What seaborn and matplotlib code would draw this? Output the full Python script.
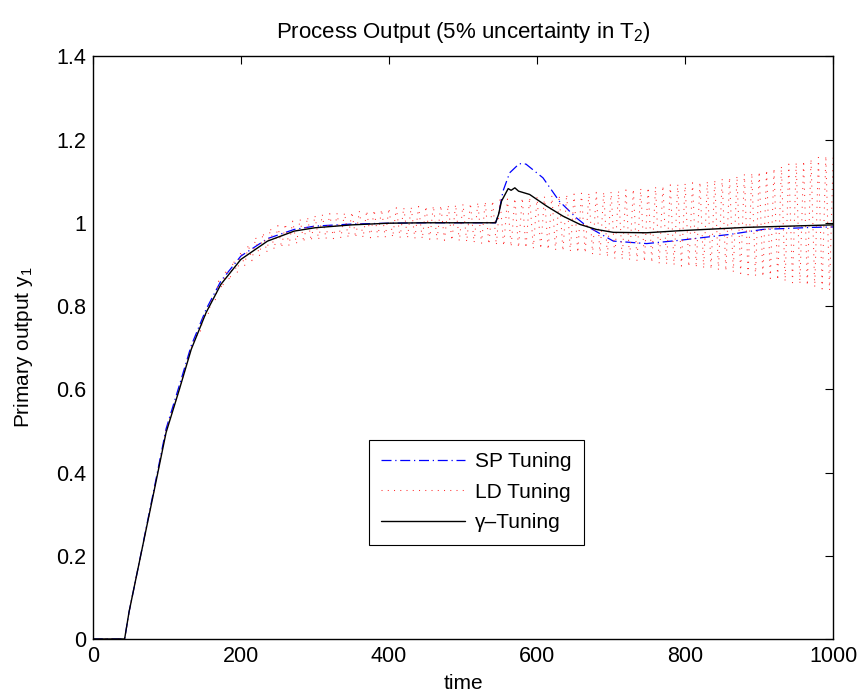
import numpy as np
import pandas as pd
import seaborn as sns
import matplotlib
matplotlib.use("Agg")
import matplotlib.pyplot as plt

# gamma-tuning (black, solid)
gam_t = [0, 43, 49, 60, 81, 99, 117, 133, 153, 173, 200, 236, 272, 300, 350, 400, 450, 500,
         544, 548, 552, 561, 565, 570, 575, 590, 613, 635, 658, 680, 703, 748, 793, 883, 1000]
gam_y = [0, 0, 0.065, 0.16, 0.34, 0.496, 0.6, 0.696, 0.784, 0.852, 0.912, 0.956, 0.98, 0.988,
         0.995, 0.999, 1.0, 1.0, 1.0, 1.02, 1.052, 1.082, 1.078, 1.084, 1.076, 1.068, 1.04, 1.016,
         0.996, 0.984, 0.977, 0.976, 0.981, 0.989, 0.995]

# SP tuning (blue, dash-dot)
sp_t = [0, 43, 49, 60, 81, 99, 117, 133, 153, 173, 200, 236, 272, 300, 350, 400, 450, 500,
        544, 548, 554, 563, 576, 585, 608, 630, 653, 667, 703, 748, 793, 860, 905, 973, 1000]
sp_y = [0, 0, 0.065, 0.16, 0.345, 0.505, 0.61, 0.705, 0.792, 0.86, 0.92, 0.962, 0.984, 0.992,
        0.997, 0.999, 1.0, 1.0, 1.0, 1.02, 1.076, 1.12, 1.142, 1.141, 1.108, 1.052, 1.012, 0.992,
        0.956, 0.95, 0.958, 0.972, 0.984, 0.989, 0.99]

# LD tuning (red, dotted) - fast growing oscillation, extremes
ld_rise_t = [0, 43, 49, 60, 81, 99, 117, 133]
ld_rise_y = [0, 0, 0.065, 0.16, 0.34, 0.50, 0.60, 0.70]
ld_osc_t = list(range(140, 1001, 5))
ld_osc_y = [0.728, 0.736, 0.780, 0.774, 0.812, 0.810, 0.860, 0.842, 0.888, 0.861,
            0.910, 0.879, 0.932, 0.896, 0.948, 0.909, 0.965, 0.920, 0.976, 0.929,
            0.987, 0.936, 0.993, 0.940, 0.998, 0.945, 1.004, 0.949, 1.009, 0.953,
            1.014, 0.956, 1.018, 0.959, 1.020, 0.961, 1.022, 0.962, 1.023, 0.963,
            1.024, 0.964, 1.026, 0.964, 1.028, 0.964, 1.029, 0.964, 1.031, 0.965,
            1.032, 0.965, 1.035, 0.965, 1.036, 0.964, 1.037, 0.963, 1.038, 0.962,
            1.039, 0.961, 1.040, 0.960, 1.041, 0.959, 1.042, 0.958, 1.043, 0.957,
            1.044, 0.956, 1.045, 0.954, 1.047, 0.952, 1.049, 0.950, 1.051, 0.948,
            1.053, 0.946, 1.055, 0.944, 1.057, 0.942, 1.059, 0.940, 1.060, 0.939,
            1.061, 0.938, 1.062, 0.937, 1.063, 0.935, 1.065, 0.934, 1.066, 0.932,
            1.068, 0.931, 1.069, 0.928, 1.071, 0.927, 1.072, 0.924, 1.073, 0.922,
            1.074, 0.918, 1.075, 0.914, 1.077, 0.912, 1.079, 0.910, 1.081, 0.908,
            1.083, 0.906, 1.085, 0.904, 1.087, 0.902, 1.089, 0.900, 1.091, 0.898,
            1.093, 0.896, 1.095, 0.894, 1.096, 0.892, 1.098, 0.890, 1.100, 0.888,
            1.103, 0.886, 1.106, 0.884, 1.109, 0.881, 1.113, 0.878, 1.117, 0.875,
            1.120, 0.872, 1.123, 0.870, 1.127, 0.866, 1.131, 0.862, 1.136, 0.859,
            1.141, 0.856, 1.145, 0.853, 1.149, 0.849, 1.153, 0.845, 1.157, 0.841,
            1.161, 0.838, 1.164]
ld_t = ld_rise_t + ld_osc_t
ld_y = ld_rise_y + ld_osc_y

sns.set_style("white")
plt.rcParams['font.family'] = ['Liberation Sans', 'DejaVu Sans']
plt.rcParams['mathtext.fontset'] = 'custom'
plt.rcParams['mathtext.rm'] = 'Liberation Sans'
plt.rcParams['mathtext.default'] = 'regular'
for k in ['text.color', 'axes.labelcolor', 'xtick.color', 'ytick.color']:
    plt.rcParams[k] = 'black'

fig = plt.figure(figsize=(8.59, 6.95), dpi=100)
ax = fig.add_axes([0.108, 0.0806, 0.862, 0.8384])

sp_df = pd.DataFrame({'time': sp_t, 'y': sp_y})
ld_df = pd.DataFrame({'time': ld_t, 'y': ld_y})
gam_df = pd.DataFrame({'time': gam_t, 'y': gam_y})

sns.lineplot(data=sp_df, x='time', y='y', ax=ax, color='#0000ff', lw=0.9,
             label='SP Tuning', sort=False)
ax.lines[-1].set_dashes((8, 3, 1, 3))
sns.lineplot(data=ld_df, x='time', y='y', ax=ax, color='#ff3030', lw=0.75,
             label='LD Tuning', sort=False)
ax.lines[-1].set_dashes((1, 5))
sns.lineplot(data=gam_df, x='time', y='y', ax=ax, color='black', lw=1.0,
             label='\u03b3\u2013Tuning', sort=False)

ax.set_xlim(0, 1000)
ax.set_ylim(0, 1.4)
ax.set_xticks([0, 200, 400, 600, 800, 1000])
ax.set_yticks([0, 0.2, 0.4, 0.6, 0.8, 1, 1.2, 1.4])
ax.set_yticklabels(['0', '0.2', '0.4', '0.6', '0.8', '1', '1.2', '1.4'])
ax.tick_params(direction='in', top=True, right=True, length=6, width=0.8,
               labelsize=15.5, pad=5)
for s in ax.spines.values():
    s.set_visible(True)
    s.set_color('black')
    s.set_linewidth(1.0)

ax.set_xlabel('time', fontsize=15, labelpad=5)
ax.set_ylabel('Primary output y$_1$', fontsize=15, labelpad=15)
ax.set_title('Process Output (5% uncertainty in T$_2$)', fontsize=16, pad=13)

leg = ax.legend(loc='center', bbox_to_anchor=(0.518, 0.252), fontsize=15,
                handlelength=4.0, frameon=True, fancybox=False, framealpha=1,
                edgecolor='black', borderpad=0.6, labelspacing=0.55, handletextpad=0.5)
leg.get_frame().set_linewidth(0.8)

fig.savefig('out.png', dpi=100)
